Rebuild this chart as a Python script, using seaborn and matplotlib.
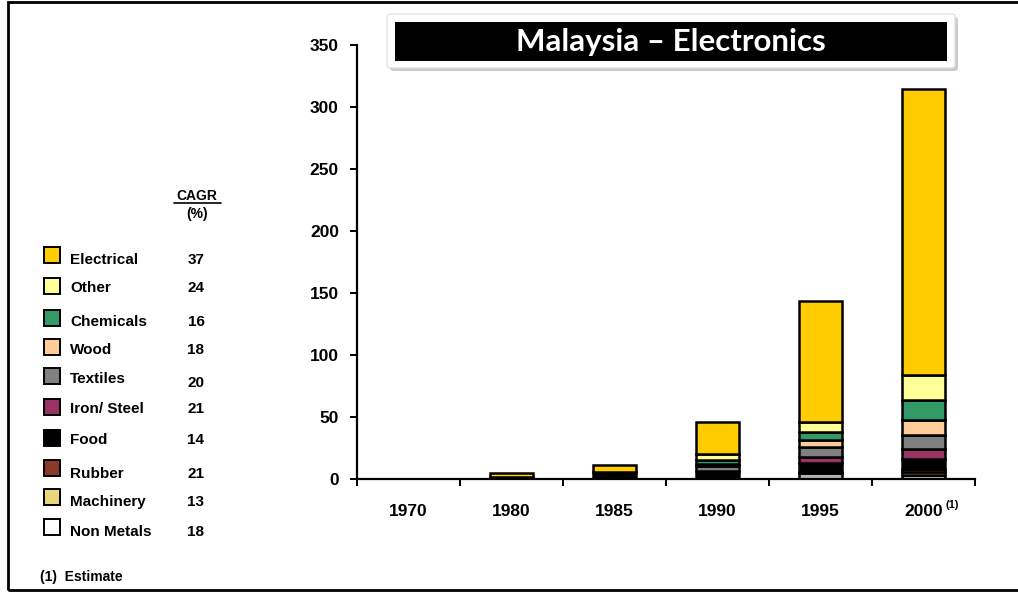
import pandas as pd
import numpy as np
import matplotlib.pyplot as plt
import seaborn as sns
from matplotlib.patches import Rectangle, FancyBboxPatch

# Data (US$ bn, stacked by sector)
years = ['1970', '1980', '1985', '1990', '1995', '2000']
sectors = ['Electrical', 'Other', 'Chemicals', 'Wood', 'Textiles',
           'Iron/ Steel', 'Food', 'Rubber', 'Machinery', 'Non Metals']
electrical = [0.2, 3.5, 6.0, 26.0, 97.7, 231.0]
other = [0, 0, 0, 4.7, 7.7, 19.7]
chemicals = [0, 0, 0, 3.5, 6.5, 16.3]
wood = [0, 0, 0, 1.9, 6.2, 12.2]
textiles = [0, 0, 0, 4.1, 8.2, 11.5]
iron_steel = [0, 0, 0, 0, 4.5, 7.8]
food = [0.2, 1.3, 5.4, 6.1, 7.0, 8.3]
rubber = [0, 0, 0, 0, 0, 2.6]
machinery = [0, 0, 0, 0, 1.0, 1.8]
non_metals = [0, 0, 0, 0, 4.9, 3.5]
cagr = [37, 24, 16, 18, 20, 21, 14, 21, 13, 18]

legend_colors = ['#FFCC00', '#FFFF99', '#339966', '#FFCC99', '#808080',
                 '#993366', '#000000', '#8B3A2A', '#E8D77A', '#FFFFFF']
bar_colors = legend_colors[:-1] + ['#B4B4B4']

values = [electrical, other, chemicals, wood, textiles,
          iron_steel, food, rubber, machinery, non_metals]
df = pd.DataFrame([
    {'year': y, 'sector': s, 'value': v}
    for s, vals in zip(sectors, values)
    for y, v in zip(years, vals)
])

sns.set_theme(style='white')
plt.rcParams['font.family'] = ['Liberation Sans', 'DejaVu Sans']
plt.rcParams['font.weight'] = 'bold'
plt.rcParams['text.color'] = 'black'
plt.rcParams['xtick.color'] = 'black'
plt.rcParams['ytick.color'] = 'black'

W, H = 1018, 592
fig = plt.figure(figsize=(W / 100, H / 100), dpi=100)
ax = fig.add_axes([357 / W, 1 - 479 / H, 618 / W, 434 / H])

sns.histplot(data=df, x='year', hue='sector', weights='value',
             hue_order=sectors, palette=dict(zip(sectors, bar_colors)),
             multiple='stack', discrete=True, shrink=0.42, alpha=1,
             edgecolor='black', linewidth=1.8, legend=False, ax=ax)

ax.set_xlim(-0.5, 5.5)
ax.set_ylim(0, 350)
ax.set_yticks(np.arange(0, 351, 50))
ax.set_xticks(range(len(years)))
ax.set_xticklabels(years)
ax.set_xticks(np.arange(-0.5, 6, 1), minor=True)
ax.set_xlabel('')
ax.set_ylabel('')
for s in ['top', 'right']:
    ax.spines[s].set_visible(False)
for s in ['left', 'bottom']:
    ax.spines[s].set_color('black')
    ax.spines[s].set_linewidth(1.6)
ax.tick_params(axis='y', which='major', direction='out', length=5, width=1.4,
               color='black', labelcolor='black', labelsize=12.5, pad=8,
               left=True)
ax.tick_params(axis='x', which='major', length=0, labelsize=12.5, pad=18,
               labelcolor='black')
ax.tick_params(axis='x', which='minor', direction='out', length=5, width=1.4,
               color='black', bottom=True)
for lbl in ax.get_xticklabels() + ax.get_yticklabels():
    lbl.set_fontweight('bold')

def fx(x):
    return x / W

def fy(y):
    return 1 - y / H

# superscript on the last year label
fig.text(fx(946), fy(505), '(1)', fontsize=8, fontweight='bold',
         ha='left', va='center')

# title box with shadow
fig.add_artist(FancyBboxPatch((fx(390), fy(71)), fx(568), 54 / H,
                              boxstyle='round,pad=0,rounding_size=0.004',
                              transform=fig.transFigure, facecolor='#9A9A9A',
                              edgecolor='none', alpha=0.5))
fig.add_artist(FancyBboxPatch((fx(387), fy(68)), fx(568), 54 / H,
                              boxstyle='round,pad=0,rounding_size=0.004',
                              transform=fig.transFigure, facecolor='white',
                              edgecolor='#DDDDDD', linewidth=0.8))
fig.add_artist(Rectangle((fx(395), fy(61)), fx(552), 39 / H,
                         transform=fig.transFigure, facecolor='black',
                         edgecolor='none'))
fig.text(fx(671), fy(41.5), 'Malaysia \u2013 Electronics', color='white',
         fontsize=22.5, fontweight='bold', family=['Lato', 'DejaVu Sans'],
         ha='center', va='center')

# legend panel with CAGR column
fig.text(fx(197), fy(196), 'CAGR', fontsize=10, fontweight='bold',
         ha='center', va='center')
fig.add_artist(plt.Line2D([fx(174), fx(221)], [fy(203), fy(203)],
                          transform=fig.transFigure, color='black', lw=1.2))
fig.text(fx(197), fy(214), '(%)', fontsize=10, fontweight='bold',
         ha='center', va='center')

square_y = [255, 286, 318, 347, 376, 407, 438, 468, 497, 527]
text_y = [260, 288, 322, 350, 379, 409, 440, 474, 502, 532]
value_y = [260, 288, 322, 350, 383, 409, 440, 474, 502, 532]
for name, col, val, sy, ty, vy in zip(sectors, legend_colors, cagr,
                                       square_y, text_y, value_y):
    fig.add_artist(Rectangle((fx(44), fy(sy + 8)), fx(16), 16 / H,
                             transform=fig.transFigure, facecolor=col,
                             edgecolor='black', linewidth=1.4))
    fig.text(fx(70), fy(ty), name, fontsize=11, fontweight='bold',
             ha='left', va='center')
    fig.text(fx(196), fy(vy), str(val), fontsize=11, fontweight='bold',
             ha='center', va='center')

fig.text(fx(40), fy(577), '(1)  Estimate', fontsize=10, fontweight='bold',
         ha='left', va='center')

# slide border
fig.add_artist(Rectangle((fx(8), fy(590)), fx(1040), 588 / H,
                         transform=fig.transFigure, facecolor='none',
                         edgecolor='black', linewidth=2))

fig.savefig('out.png', dpi=100)
